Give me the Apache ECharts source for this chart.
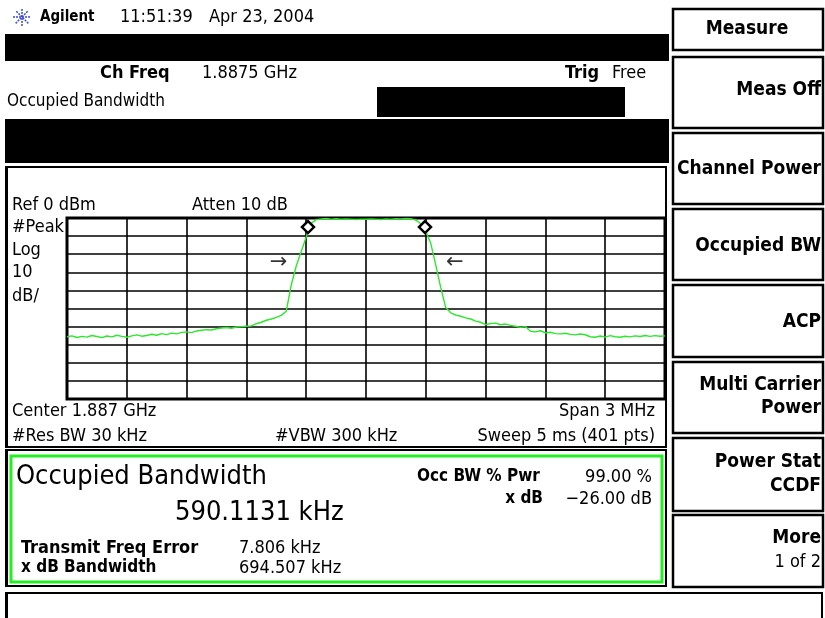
<!DOCTYPE html>
<html>
<head>
<meta charset="utf-8">
<style>
  html, body { margin: 0; padding: 0; background: #fff; }
  #main { width: 825px; height: 618px; }
</style>
<script src="https://cdn.jsdelivr.net/npm/echarts@6/dist/echarts.min.js"></script>
</head>
<body>
<div id="main"></div>
<script>
// sweep points, offset from channel freq 1.8875 GHz (kHz)
const freqKHz = [
  -1500, -1475, -1450, -1425, -1400, -1375, -1350, -1325, -1300, -1275,
  -1250, -1225, -1200, -1175, -1150, -1125, -1100, -1075, -1050, -1025,
  -1000, -975, -950, -925, -900, -875, -850, -825, -800, -775,
  -750, -725, -700, -675, -650, -625, -600, -575, -550, -525,
  -500, -475, -450, -425, -400, -375, -350, -325, -300, -275,
  -250, -225, -200, -175, -150, -125, -100, -75, -50, -25,
  0, 25, 50, 75, 100, 125, 150, 175, 200, 225,
  250, 275, 300, 325, 350, 375, 400, 425, 450, 475,
  500, 525, 550, 575, 600, 625, 650, 675, 700, 725,
  750, 775, 800, 825, 850, 875, 900, 925, 950, 975,
  1000, 1025, 1050, 1075, 1100, 1125, 1150, 1175, 1200, 1225,
  1250, 1275, 1300, 1325, 1350, 1375, 1400, 1425, 1450, 1475,
  1500
]
// trace level (dBm)
const levelDbm = [
  -65.6, -65.1, -66.0, -65.4, -65.8, -64.9, -65.5, -66.1, -65.2, -65.7,
  -64.8, -65.4, -65.9, -65.1, -64.6, -65.3, -64.9, -64.2, -64.8, -63.9,
  -64.4, -63.6, -64.0, -63.2, -62.9, -63.3, -62.4, -62.0, -61.7, -61.9,
  -61.2, -60.8, -60.5, -60.9, -60.2, -60.0, -59.8, -59.6, -58.4, -57.6,
  -56.5, -55.8, -54.9, -53.8, -51.5, -37.0, -26.5, -18.5, -10.5, -3.0,
  -0.9, -0.5, -0.3, -0.6, -0.4, -0.7, -0.5, -0.6, -0.8, -0.6,
  -0.7, -0.5, -0.6, -0.8, -0.5, -0.6, -0.4, -0.5, -0.3, -0.4,
  -1.2, -3.2, -7.5, -14.0, -26.0, -38.5, -49.5, -52.4, -53.6, -54.3,
  -55.2, -55.8, -57.0, -57.6, -58.9, -58.3, -58.1, -59.0, -58.6, -59.3,
  -59.8, -60.4, -60.0, -62.6, -62.9, -62.3, -63.5, -63.1, -63.9, -64.0,
  -63.7, -64.3, -64.6, -64.1, -64.5, -65.6, -65.9, -65.2, -65.8, -65.0,
  -65.6, -65.9, -65.3, -65.7, -65.1, -65.5, -64.9, -65.4, -65.0, -65.3,
  -65.1
]
// occupied bw markers (diamonds) and x dB arrows
const obwMarkers = [[-291, -5], [296, -5]]
const xdbArrows = [[-439, -24.7], [446, -24.7]]
const arrowGlyphs = ['→', '←']

const FONT = '"DejaVu Sans Condensed", "DejaVu Sans", sans-serif'

function txt(s, x, y, size, bold, align) {
  align = align || 'left'
  return {
    type: 'text', x: x, y: y, silent: true, z: 10,
    style: {
      text: s, fill: '#000',
      font: (bold ? 'bold ' : '') + size + 'px ' + FONT,
      align: align, textAlign: align,
      verticalAlign: 'middle', textVerticalAlign: 'middle'
    }
  }
}
function box(x, y, w, h, opt) {
  opt = opt || {}
  return {
    type: 'rect', silent: true, z: opt.z || 5,
    shape: { x: x, y: y, width: w, height: h },
    style: { fill: opt.fill || 'none', stroke: opt.stroke || null, lineWidth: opt.lw || 0 }
  }
}

const els = []
// header
els.push({
  type: 'group', x: 22, y: 17, silent: true,
  children: [0, 45, 90, 135].map(function (a) {
    return { type: 'line', rotation: a * Math.PI / 180, shape: { x1: -9, y1: 0, x2: 9, y2: 0 },
      style: { stroke: '#3a4be0', lineWidth: 1.5, lineDash: [2, 1] } }
  })
})
els.push(txt('Agilent', 40, 17, 15, true))
els.push(txt('11:51:39', 120, 17, 18))
els.push(txt('Apr 23, 2004', 209, 17, 18))
els.push(box(5, 34, 664, 27, { fill: '#000' }))
els.push(txt('Ch Freq', 100, 73, 18, true))
els.push(txt('1.8875 GHz', 202, 73, 18))
els.push(txt('Trig', 565, 73, 18, true))
els.push(txt('Free', 612, 73, 18))
els.push(txt('Occupied Bandwidth', 7, 102, 17))
els.push(box(377, 87, 248, 30, { fill: '#000' }))
els.push(box(5, 119, 664, 44, { fill: '#000' }))

// graph frame
els.push(box(6, 167, 660, 280, { stroke: '#000', lw: 2 }))
els.push(box(5, 167, 3, 280, { fill: '#000' }))
els.push(txt('Ref 0 dBm', 12, 205, 18))
els.push(txt('Atten 10 dB', 192, 205, 18))
els.push(txt('#Peak', 12, 227, 18))
els.push(txt('Log', 12, 250, 18))
els.push(txt('10', 12, 272, 18))
els.push(txt('dB/', 12, 296, 18))
els.push(txt('Center 1.887 GHz', 12, 411, 18))
els.push(txt('Span 3 MHz', 655, 411, 18, false, 'right'))
els.push(txt('#Res BW 30 kHz', 12, 436, 18))
els.push(txt('#VBW 300 kHz', 275, 436, 18))
els.push(txt('Sweep 5 ms (401 pts)', 655, 436, 18, false, 'right'))

// results panel
els.push(box(6, 450, 660, 136, { stroke: '#000', lw: 2 }))
els.push(box(5, 450, 3, 136, { fill: '#000' }))
els.push(box(11, 456, 651, 126, { stroke: '#22ee22', lw: 3 }))
els.push(txt('Occupied Bandwidth', 16, 477, 27))
els.push(txt('590.1131 kHz', 175, 513, 27))
els.push(txt('Occ BW % Pwr', 417, 477, 17, true))
els.push(txt('99.00 %', 652, 477, 18, false, 'right'))
els.push(txt('x dB', 543, 499, 17, true, 'right'))
els.push(txt('−26.00 dB', 652, 499, 18, false, 'right'))
els.push(txt('Transmit Freq Error', 21, 548, 18, true))
els.push(txt('7.806 kHz', 239, 548, 18))
els.push(txt('x dB Bandwidth', 21, 568, 17, true))
els.push(txt('694.507 kHz', 239, 568, 18))

// message line
els.push(box(6, 593, 816, 40, { stroke: '#000', lw: 2 }))
els.push(box(5, 593, 3, 30, { fill: '#000' }))

// softkeys
const keyTops = [9, 57, 133, 209, 285, 362, 438, 515]
const keyBottoms = [50, 128, 204, 280, 357, 433, 511, 587]
keyTops.forEach(function (t, i) {
  els.push(box(673, t, 150, keyBottoms[i] - t, { stroke: '#000', lw: 2.5 }))
})
els.push(txt('Measure', 747, 29, 19, true, 'center'))
els.push(txt('Meas Off', 821, 90, 19, true, 'right'))
els.push(txt('Channel Power', 821, 169, 19, true, 'right'))
els.push(txt('Occupied BW', 821, 246, 19, true, 'right'))
els.push(txt('ACP', 821, 322, 19, true, 'right'))
els.push(txt('Multi Carrier', 821, 385, 19, true, 'right'))
els.push(txt('Power', 821, 408, 19, true, 'right'))
els.push(txt('Power Stat', 821, 462, 19, true, 'right'))
els.push(txt('CCDF', 821, 486, 19, true, 'right'))
els.push(txt('More', 821, 538, 19, true, 'right'))
els.push(txt('1 of 2', 821, 562, 18, false, 'right'))

const chart = echarts.init(document.getElementById('main'))
chart.setOption({
  animation: false,
  backgroundColor: '#fff',
  grid: {
    left: 67, top: 218, width: 598, height: 181,
    show: true, borderColor: '#000', borderWidth: 3, backgroundColor: '#fff'
  },
  xAxis: {
    type: 'value', min: -1500, max: 1500, interval: 300,
    axisLabel: { show: false }, axisTick: { show: false }, axisLine: { show: false },
    splitLine: { show: true, lineStyle: { color: '#000', width: 1.6 } }
  },
  yAxis: {
    type: 'value', min: -100, max: 0, interval: 10,
    axisLabel: { show: false }, axisTick: { show: false }, axisLine: { show: false },
    splitLine: { show: true, lineStyle: { color: '#000', width: 1.6 } }
  },
  series: [
    {
      type: 'line',
      data: freqKHz.map(function (f, i) { return [f, levelDbm[i]] }),
      showSymbol: false,
      lineStyle: { color: '#2ee82e', width: 1.4 },
      silent: true,
      z: 2
    },
    {
      type: 'scatter',
      data: obwMarkers,
      symbol: 'diamond',
      symbolSize: 12,
      itemStyle: { color: '#fff', borderColor: '#000', borderWidth: 2.5, opacity: 1 },
      silent: true,
      z: 4
    },
    {
      type: 'scatter',
      data: xdbArrows,
      symbolSize: 0,
      label: {
        show: true, position: 'inside',
        formatter: function (p) { return arrowGlyphs[p.dataIndex] },
        color: '#000', fontSize: 21, fontFamily: 'DejaVu Sans'
      },
      silent: true,
      z: 4
    }
  ],
  graphic: { elements: els }
})
</script>
</body>
</html>
